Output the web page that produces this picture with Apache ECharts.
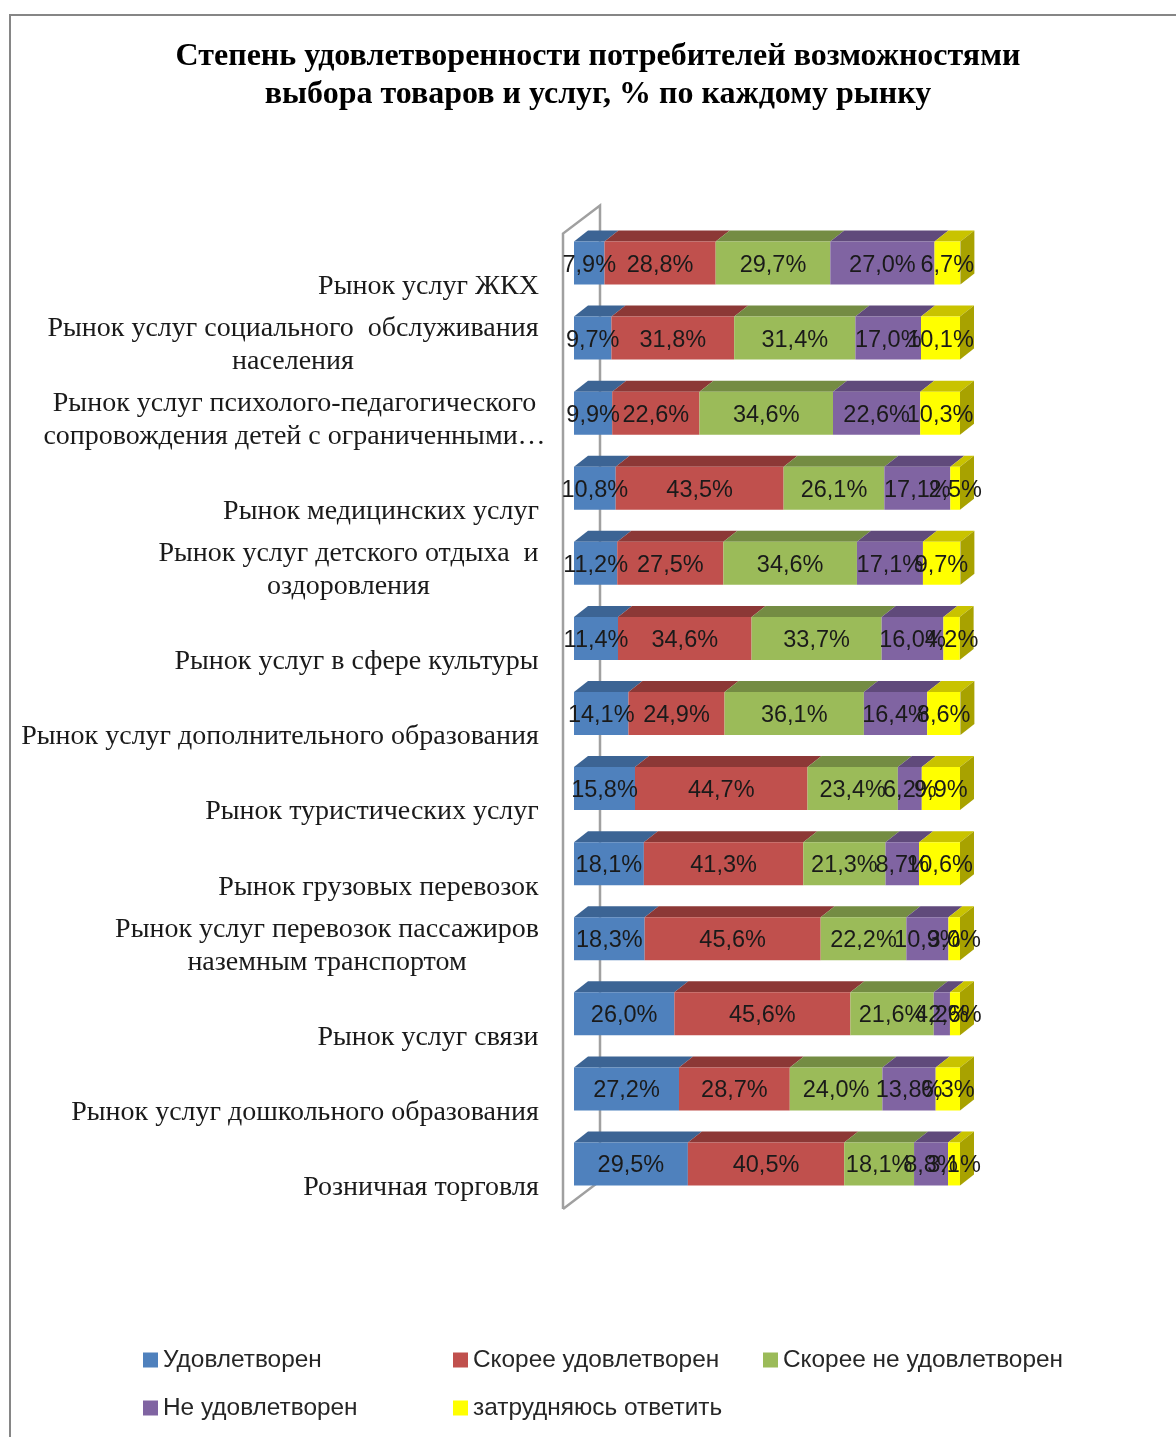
<!DOCTYPE html>
<html><head><meta charset="utf-8">
<style>html,body{margin:0;padding:0;background:#fff}#c{width:1176px;height:1437px}</style>
<script src="https://cdn.jsdelivr.net/npm/echarts@6/dist/echarts.min.js"></script>
</head><body><div id="c"></div>
<script>
const titleText = 'Степень удовлетворенности потребителей возможностями\nвыбора товаров и услуг, % по каждому рынку';
const categories = [
 'Рынок услуг ЖКХ',
 'Рынок услуг социального  обслуживания\nнаселения',
 'Рынок услуг психолого-педагогического\nсопровождения детей с ограниченными…',
 'Рынок медицинских услуг',
 'Рынок услуг детского отдыха  и\nоздоровления',
 'Рынок услуг в сфере культуры',
 'Рынок услуг дополнительного образования',
 'Рынок туристических услуг',
 'Рынок грузовых перевозок',
 'Рынок услуг перевозок пассажиров\nназемным транспортом',
 'Рынок услуг связи',
 'Рынок услуг дошкольного образования',
 'Розничная торговля'
];
const satisfied    = [7.9, 9.7, 9.9, 10.8, 11.2, 11.4, 14.1, 15.8, 18.1, 18.3, 26.0, 27.2, 29.5];
const ratherYes    = [28.8, 31.8, 22.6, 43.5, 27.5, 34.6, 24.9, 44.7, 41.3, 45.6, 45.6, 28.7, 40.5];
const ratherNo     = [29.7, 31.4, 34.6, 26.1, 34.6, 33.7, 36.1, 23.4, 21.3, 22.2, 21.6, 24.0, 18.1];
const notSatisfied = [27.0, 17.0, 22.6, 17.1, 17.1, 16.0, 16.4, 6.2, 8.7, 10.9, 4.2, 13.8, 8.8];
const hardToSay    = [6.7, 10.1, 10.3, 2.5, 9.7, 4.2, 8.6, 9.9, 10.6, 3.0, 2.6, 6.3, 3.1];
const seriesNames = ['Удовлетворен','Скорее удовлетворен','Скорее не удовлетворен','Не удовлетворен','затрудняюсь ответить'];
const seriesValues = [satisfied, ratherYes, ratherNo, notSatisfied, hardToSay];
const faceColors = ['#4f81bd','#c0504d','#9bbb59','#8064a2','#ffff00'];
const topColors  = ['#3c6494','#8c3836','#748c43','#604a7b','#c9c300'];
const sideColor = '#a8a200';
const barH = 43, depthX = 14, depthY = 11;

const labelSize = 28;
const ctx = document.createElement('canvas').getContext('2d');
ctx.font = labelSize + 'px "Liberation Serif"';
const rich = {};
categories.forEach((c,i)=>{
  const w = Math.max(...c.split('\n').map(l=>ctx.measureText(l).width));
  rich['l'+i] = {width: Math.ceil(w), align:'center', lineHeight:33, fontFamily:'Liberation Serif', fontSize:labelSize, color:'#1a1a1a'};
});
rich.l2.padding = [0,-7,0,0];

const depthData = [];
categories.forEach((c,ci)=>{
  let acc = 0;
  seriesValues.forEach((vals,si)=>{
    depthData.push([ci, acc, acc+vals[ci], si]);
    acc += vals[ci];
  });
});

const legendPos = [[143,1348],[453,1348],[763,1348],[143,1396],[453,1396]];

const chart = echarts.init(document.getElementById('c'), null, {renderer:'canvas', width:1176, height:1437});
chart.setOption({
  animation:false,
  backgroundColor:'#fff',
  title:{text:titleText,left:593,textAlign:'center',top:33,
    textStyle:{fontFamily:'Liberation Serif',fontWeight:'bold',fontSize:32,lineHeight:38,color:'#000'}},
  graphic:[{type:'rect',shape:{x:10,y:15,width:1200,height:1500},style:{fill:'none',stroke:'#868686',lineWidth:2},silent:true}],
  legend: seriesNames.map((n,i)=>({
    data:[n], left:legendPos[i][0], top:legendPos[i][1], icon:'rect', itemWidth:15, itemHeight:15, itemGap:0,
    selectedMode:false, padding:0,
    textStyle:{fontFamily:'Liberation Sans',fontSize:24.4,color:'#262626',padding:[0,0,0,0]}
  })),
  grid:{left:574,top:225.5,width:386,height:976,containLabel:false},
  xAxis:{type:'value',min:0,max:100,show:false},
  yAxis:{type:'category',inverse:true,data:categories,
    axisLine:{show:false},axisTick:{show:false},splitLine:{show:false},
    axisLabel:{interval:0,margin:35,verticalAlign:'bottom',padding:[0,0,-40,0],
      formatter:(v,i)=>v.split('\n').map(l=>'{l'+i+'|'+l+'}').join('\n'),rich}},
  series:[
    {type:'custom',name:'wall',silent:true,z:1,data:[[0]],encode:{x:0},
     renderItem:(p,api)=>{
       const g=p.coordSys,l=g.x-11,b=g.y+g.height+7.5,t=g.y+8;
       const s={stroke:'#a0a0a0',lineWidth:2.5,fill:null};
       return {type:'group',children:[
         {type:'polyline',shape:{points:[[l,b],[l,t],[l+37,t-28],[l+37,b-28],[l,b]]},style:s}
       ]};
     }},
    {type:'custom',name:'depth',silent:true,z:2,data:depthData,encode:{x:[1,2],y:0},
     renderItem:(p,api)=>{
       const a=api.coord([api.value(1),api.value(0)]),b=api.coord([api.value(2),api.value(0)]);
       const si=api.value(3),top=a[1]-barH/2;
       const kids=[{type:'polygon',shape:{points:[[a[0],top],[a[0]+depthX,top-depthY],[b[0]+depthX,top-depthY],[b[0],top]]},style:{fill:topColors[si]}}];
       if(si===seriesNames.length-1){
         kids.push({type:'polygon',shape:{points:[[b[0],top],[b[0]+depthX,top-depthY],[b[0]+depthX,top-depthY+barH],[b[0],top+barH]]},style:{fill:sideColor}});
       }
       return {type:'group',children:kids};
     }},
    ...seriesNames.map((n,i)=>({
      type:'bar',name:n,stack:'t',barWidth:barH,z:3,data:seriesValues[i],
      itemStyle:{color:faceColors[i]},
      label:{show:true,position:'inside',color:'#1a1a1a',fontFamily:'Liberation Sans',fontSize:23.5,
        formatter:d=>d.value.toFixed(1).replace('.',',')+'%'},
      labelLayout:{hideOverlap:false,dy:2}
    }))
  ]
});
</script></body></html>
